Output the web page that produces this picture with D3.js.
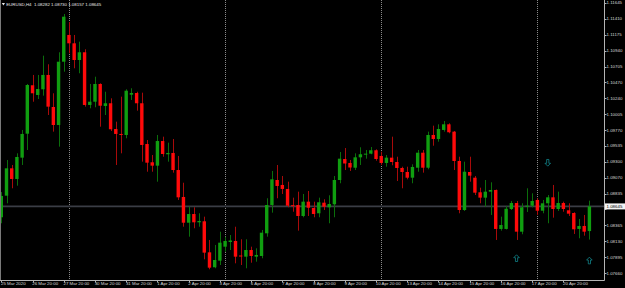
<!DOCTYPE html>
<html>
<head>
<meta charset="utf-8">
<script src="https://cdn.jsdelivr.net/npm/d3@7"></script>
<style>
  html, body { margin: 0; padding: 0; background: #000; overflow: hidden; }
</style>
</head>
<body>
<div id="chart"></div>
<script>
// EURUSD H4 candles, 25 Mar 20:00 .. 21 Apr 2020, MT4 style on black
var SYMBOL = 'EURUSD,H4';
var LAST_BAR = [1.08282, 1.08730, 1.08157, 1.08645];

var TIME_LABELS = ['25 Mar 2020', '26 Mar 20:00', '27 Mar 20:00', '30 Mar 20:00', '31 Mar 20:00',
  '1 Apr 20:00', '2 Apr 20:00', '3 Apr 20:00', '6 Apr 20:00', '7 Apr 20:00', '8 Apr 20:00',
  '9 Apr 20:00', '10 Apr 20:00', '13 Apr 20:00', '14 Apr 20:00', '15 Apr 20:00',
  '16 Apr 20:00', '17 Apr 20:00', '20 Apr 20:00'];
var TIME_LABEL_BARS = [0, 6, 12, 18, 24, 30, 36, 42, 48, 54, 60, 66, 72, 78, 84, 90, 96, 102, 108];
var WEEK_START_BARS = [13, 43, 73, 103];

var PRICE_TICKS = [1.11645, 1.11410, 1.11175, 1.10940, 1.10705, 1.10470, 1.10240, 1.10005,
  1.09770, 1.09535, 1.09300, 1.09070, 1.08835, 1.08600, 1.08365, 1.08130, 1.07895, 1.07660];

var OPEN = [1.08485, 1.08803, 1.09206, 1.09049, 1.09363, 1.09716, 1.10429, 1.10286, 1.10370, 1.10581,
  1.10109, 1.09844, 1.10776, 1.11170, 1.11047, 1.10801, 1.10915, 1.10139, 1.10187, 1.10448,
  1.10124, 1.10164, 1.09785, 1.09712, 1.09697, 1.10290, 1.10315, 1.10164, 1.09564, 1.09295,
  1.09245, 1.09608, 1.09413, 1.09432, 1.09181, 1.08784, 1.08405, 1.08533, 1.08411, 1.08426,
  1.07969, 1.07749, 1.07846, 1.08052, 1.08121, 1.08136, 1.07922, 1.07905, 1.08003, 1.07905,
  1.07915, 1.08249, 1.08666, 1.09034, 1.08961, 1.08902, 1.08663, 1.08666, 1.08504, 1.08715,
  1.08622, 1.08544, 1.08700, 1.08632, 1.08676, 1.09034, 1.09343, 1.09285, 1.09215, 1.09368,
  1.09407, 1.09422, 1.09472, 1.09388, 1.09285, 1.09363, 1.09299, 1.09211, 1.09152, 1.09068,
  1.09215, 1.09436, 1.09215, 1.09697, 1.09638, 1.09771, 1.09854, 1.09746, 1.09314, 1.08592,
  1.09152, 1.09068, 1.08853, 1.08774, 1.08862, 1.08887, 1.08313, 1.08313, 1.08607, 1.08695,
  1.08273, 1.08641, 1.08656, 1.08740, 1.08582, 1.08691, 1.08779, 1.08607, 1.08695, 1.08588,
  1.08548, 1.08313, 1.08357, 1.08282];
var HIGH = [1.08857, 1.09329, 1.09255, 1.09427, 1.09771, 1.10448, 1.10581, 1.10581, 1.10865, 1.10738,
  1.10311, 1.10915, 1.11479, 1.11361, 1.11170, 1.11071, 1.10959, 1.10448, 1.10555, 1.10458,
  1.10334, 1.10237, 1.09893, 1.10261, 1.10370, 1.10385, 1.10334, 1.10320, 1.09623, 1.09402,
  1.09697, 1.09672, 1.09584, 1.09638, 1.09388, 1.08994, 1.08641, 1.08632, 1.08544, 1.08494,
  1.08151, 1.08077, 1.08273, 1.08199, 1.08224, 1.08346, 1.08161, 1.08161, 1.08052, 1.08028,
  1.08298, 1.08765, 1.09167, 1.09255, 1.09093, 1.09009, 1.08774, 1.08862, 1.08828, 1.08872,
  1.08715, 1.08774, 1.08750, 1.08809, 1.09093, 1.09446, 1.09505, 1.09329, 1.09427, 1.09516,
  1.09476, 1.09520, 1.09486, 1.09451, 1.09402, 1.09672, 1.09377, 1.09230, 1.09230, 1.09265,
  1.09476, 1.09476, 1.09746, 1.09834, 1.09854, 1.09903, 1.09869, 1.09756, 1.09377, 1.09304,
  1.09377, 1.09093, 1.08921, 1.09034, 1.09000, 1.08894, 1.08494, 1.08651, 1.08725, 1.08725,
  1.08691, 1.08912, 1.08838, 1.08765, 1.08740, 1.08813, 1.08961, 1.08862, 1.08715, 1.08691,
  1.08559, 1.08460, 1.08519, 1.08730];
var LOW = [1.08397, 1.08691, 1.08912, 1.08950, 1.09255, 1.09476, 1.10187, 1.10227, 1.10276, 1.09991,
  1.09746, 1.09525, 1.10629, 1.10900, 1.10679, 1.10606, 1.10114, 1.10090, 1.10105, 1.09819,
  1.09991, 1.09756, 1.09255, 1.09427, 1.09648, 1.10213, 1.10055, 1.09304, 1.09156, 1.09156,
  1.09009, 1.09377, 1.09304, 1.09142, 1.08740, 1.08346, 1.08199, 1.08323, 1.08346, 1.07866,
  1.07719, 1.07734, 1.07782, 1.07978, 1.08003, 1.07807, 1.07782, 1.07734, 1.07816, 1.07831,
  1.07881, 1.08199, 1.08553, 1.08765, 1.08828, 1.08632, 1.08567, 1.08288, 1.08485, 1.08504,
  1.08485, 1.08485, 1.08592, 1.08397, 1.08485, 1.08986, 1.09181, 1.09167, 1.09181, 1.09255,
  1.09348, 1.09413, 1.09318, 1.09255, 1.09230, 1.09251, 1.09019, 1.08912, 1.09044, 1.08986,
  1.09156, 1.09142, 1.09192, 1.09539, 1.09598, 1.09746, 1.09722, 1.09181, 1.08544, 1.08578,
  1.09009, 1.08813, 1.08691, 1.08641, 1.08519, 1.08151, 1.08288, 1.08305, 1.08592, 1.08151,
  1.08235, 1.08563, 1.08632, 1.08519, 1.08544, 1.08397, 1.08479, 1.08578, 1.08567, 1.08504,
  1.08239, 1.08176, 1.08214, 1.08157];
var CLOSE = [1.08799, 1.09206, 1.09049, 1.09373, 1.09712, 1.10433, 1.10311, 1.10374, 1.10581, 1.10114,
  1.09844, 1.10776, 1.11439, 1.11047, 1.10801, 1.10915, 1.10139, 1.10187, 1.10448, 1.10128,
  1.10164, 1.09781, 1.09712, 1.09697, 1.10349, 1.10315, 1.10164, 1.09550, 1.09289, 1.09245,
  1.09608, 1.09417, 1.09432, 1.09181, 1.08779, 1.08405, 1.08533, 1.08411, 1.08430, 1.07964,
  1.07743, 1.07856, 1.08111, 1.08136, 1.08143, 1.07905, 1.07908, 1.08003, 1.07915, 1.07930,
  1.08258, 1.08666, 1.09044, 1.08946, 1.08902, 1.08656, 1.08651, 1.08504, 1.08715, 1.08626,
  1.08533, 1.08706, 1.08641, 1.08681, 1.09034, 1.09348, 1.09277, 1.09218, 1.09368, 1.09413,
  1.09422, 1.09472, 1.09343, 1.09285, 1.09363, 1.09299, 1.09211, 1.09152, 1.09068, 1.09226,
  1.09436, 1.09215, 1.09697, 1.09638, 1.09785, 1.09854, 1.09737, 1.09314, 1.08592, 1.09156,
  1.09098, 1.08847, 1.08774, 1.08862, 1.08887, 1.08313, 1.08371, 1.08611, 1.08695, 1.08273,
  1.08632, 1.08656, 1.08725, 1.08582, 1.08691, 1.08779, 1.08607, 1.08695, 1.08607, 1.08538,
  1.08308, 1.08357, 1.08273, 1.08645];

// signal arrows on the chart
var ARROW_BARS = [99, 105, 113];
var ARROW_PRICES = [1.07881, 1.09289, 1.07846];
var ARROW_DIRS = ['up', 'down', 'up'];

(function () {
  var W = 625, H = 288, pw = 604, ph = 280;
  var FONT = '"Liberation Sans", Arial, sans-serif';

  var svg = d3.select('#chart').append('svg')
    .attr('width', W).attr('height', H)
    .style('display', 'block').style('background', '#000');

  var x = d3.scaleLinear().domain([0, OPEN.length - 1]).range([1.3, 589.4]);
  var y = d3.scaleLinear().domain([1.07660, 1.11645]).range([273.3, 2.7]);

  svg.append('clipPath').attr('id', 'plot')
    .append('rect').attr('x', 0).attr('y', 0).attr('width', pw).attr('height', ph);
  var g = svg.append('g').attr('clip-path', 'url(#plot)');

  // week separators
  WEEK_START_BARS.forEach(function (b) {
    var xx = Math.round(x(b)) + 0.5;
    g.append('line').attr('x1', xx).attr('x2', xx).attr('y1', 0).attr('y2', ph)
      .attr('stroke', '#8a8a8a').attr('stroke-width', 1).attr('stroke-dasharray', '1,1');
  });

  // bid line
  var last = LAST_BAR[3];
  g.append('line').attr('x1', 0).attr('x2', pw).attr('y1', y(last)).attr('y2', y(last))
    .attr('stroke', '#3a3d45').attr('stroke-width', 1.6);

  // candles
  var bw = 3.4;
  d3.range(OPEN.length).forEach(function (i) {
    var up = CLOSE[i] >= OPEN[i];
    var cx = Math.round(x(i)) + 0.5;
    g.append('line').attr('x1', cx).attr('x2', cx)
      .attr('y1', y(HIGH[i])).attr('y2', y(LOW[i]))
      .attr('stroke', up ? '#0b6e0b' : '#a80a0a').attr('stroke-width', 1);
    var top = y(Math.max(OPEN[i], CLOSE[i])), bot = y(Math.min(OPEN[i], CLOSE[i]));
    g.append('rect').attr('x', x(i) - bw / 2).attr('y', top)
      .attr('width', bw).attr('height', Math.max(1, bot - top))
      .attr('fill', up ? '#109e10' : '#ff0a0a');
  });

  // arrows (hollow, wingdings style)
  ARROW_BARS.forEach(function (b, k) {
    var cx = x(b), cy = y(ARROW_PRICES[k]), s = ARROW_DIRS[k] === 'up' ? 1 : -1;
    var p = d3.path();
    p.moveTo(cx, cy - 3.5 * s);
    p.lineTo(cx + 2.8, cy - 0.6 * s);
    p.lineTo(cx + 1.1, cy - 0.6 * s);
    p.lineTo(cx + 1.1, cy + 3.2 * s);
    p.lineTo(cx - 1.1, cy + 3.2 * s);
    p.lineTo(cx - 1.1, cy - 0.6 * s);
    p.lineTo(cx - 2.8, cy - 0.6 * s);
    p.closePath();
    g.append('path').attr('d', p.toString())
      .attr('fill', 'none').attr('stroke', '#12858c').attr('stroke-width', 0.8);
  });

  // frame
  svg.append('line').attr('x1', 0.5).attr('x2', 0.5).attr('y1', 0).attr('y2', ph + 0.5)
    .attr('stroke', '#7a7a7a');
  svg.append('line').attr('x1', pw + 0.5).attr('x2', pw + 0.5).attr('y1', 0).attr('y2', ph + 0.5)
    .attr('stroke', '#b4b4b4');
  svg.append('line').attr('x1', 0).attr('x2', pw + 0.5).attr('y1', ph + 0.5).attr('y2', ph + 0.5)
    .attr('stroke', '#b4b4b4');

  // price axis (labels under the bid box are hidden, as in the terminal)
  PRICE_TICKS.forEach(function (p) {
    var yy = Math.round(y(p)) + 0.5;
    svg.append('line').attr('x1', pw).attr('x2', pw + 2.5).attr('y1', yy).attr('y2', yy)
      .attr('stroke', '#b4b4b4');
    if (Math.abs(y(p) - y(last)) < 6) return;
    svg.append('text').attr('x', 606.5).attr('y', y(p) + 1.5)
      .attr('font-family', FONT).attr('font-size', 4.4).attr('fill', '#d8d8d8')
      .text(p.toFixed(5));
  });

  // current price box
  svg.append('rect').attr('x', 605).attr('y', y(last) - 3).attr('width', 20).attr('height', 6)
    .attr('fill', '#f4f4f4');
  svg.append('text').attr('x', 606.5).attr('y', y(last) + 1.5)
    .attr('font-family', FONT).attr('font-size', 4.4).attr('fill', '#000')
    .text(last.toFixed(5));

  // time axis
  TIME_LABELS.forEach(function (t, k) {
    var xx = Math.round(x(TIME_LABEL_BARS[k])) + 0.5;
    svg.append('line').attr('x1', xx).attr('x2', xx).attr('y1', ph).attr('y2', ph + 2.5)
      .attr('stroke', '#b4b4b4');
    svg.append('text').attr('x', x(TIME_LABEL_BARS[k]) - 0.3).attr('y', 285.4)
      .attr('font-family', FONT).attr('font-size', 4.4).attr('fill', '#d8d8d8')
      .text(t);
  });

  // header
  var tri = d3.path();
  tri.moveTo(1.8, 3); tri.lineTo(5, 3); tri.lineTo(3.4, 5.6); tri.closePath();
  svg.append('path').attr('d', tri.toString()).attr('fill', '#e8e8e8');
  svg.append('text').attr('x', 6.2).attr('y', 5.9)
    .attr('font-family', FONT).attr('font-size', 4.4).attr('fill', '#e8e8e8')
    .attr('xml:space', 'preserve')
    .text(SYMBOL + '  ' + LAST_BAR.map(function (v) { return v.toFixed(5); }).join(' '));
})();
</script>
</body>
</html>
